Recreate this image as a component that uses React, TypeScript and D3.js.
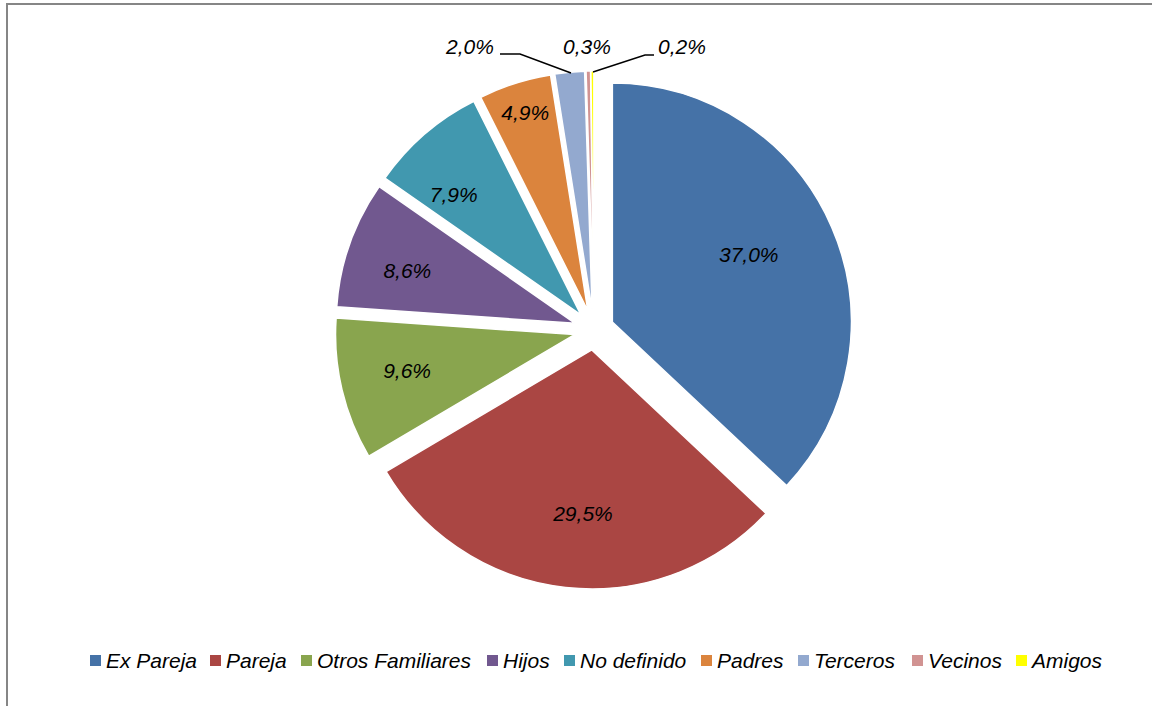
import React from "react";
import * as d3 from "d3";

const categories = ["Ex Pareja", "Pareja", "Otros Familiares", "Hijos", "No definido", "Padres", "Terceros", "Vecinos", "Amigos"];
const values = [37.0, 29.5, 9.6, 8.6, 7.9, 4.9, 2.0, 0.3, 0.2];
const labels = ["37,0%", "29,5%", "9,6%", "8,6%", "7,9%", "4,9%", "2,0%", "0,3%", "0,2%"];
const colors = ["#4572A7", "#AA4643", "#89A54E", "#71588F", "#4198AF", "#DB843D", "#93A9CF", "#D19392", "#FFFF00"];

// layout (not data)
const W = 1152, H = 706;
const CX = 594, CY = 330, R = 239, EXPLODE = 20;
const labelFactor = [0.64, 0.68, 0.72, 0.74, 0.73, 0.87];
const labelNudge: [number, number][] = [[-4, -7], [9, 2], [0, -4], [-1, 6], [-13, 12], [1, 0]];
const outsideLabelPos: Record<number, [number, number]> = { 6: [470, 47], 7: [587, 47], 8: [682, 47] };
const FONT = "'Liberation Sans', Arial, sans-serif";
const FS = 21;
const legendX = [90, 210, 301, 487, 564, 701, 798, 912, 1016];

export default function App() {
  const pie = d3.pie<number>().sort(null).value((d) => d);
  const arcs = pie(values);
  const arc = d3.arc<d3.PieArcDatum<number>>().innerRadius(0).outerRadius(R);
  const dir = (a: number) => [Math.sin(a), -Math.cos(a)];

  return (
    <svg width={W} height={H} style={{ position: "absolute", left: 0, top: 0, background: "#fff" }}>
      <rect x={7} y={4} width={W + 20} height={H + 20} fill="#fff" stroke="#868686" strokeWidth={2} />
      {arcs.map((a, i) => {
        const mid = (a.startAngle + a.endAngle) / 2;
        const [dx, dy] = dir(mid);
        const ox = CX + dx * EXPLODE, oy = CY + dy * EXPLODE;
        return (
          <g key={i} transform={`translate(${ox},${oy})`}>
            <path d={arc(a) as string} fill={colors[i]} stroke="#fff" strokeWidth={1.5} strokeLinejoin="round" />
          </g>
        );
      })}
      {arcs.map((a, i) => {
        const mid = (a.startAngle + a.endAngle) / 2;
        const [dx, dy] = dir(mid);
        let lx: number, ly: number;
        if (i < labelFactor.length) {
          const ox = CX + dx * EXPLODE, oy = CY + dy * EXPLODE;
          lx = ox + dx * R * labelFactor[i] + labelNudge[i][0];
          ly = oy + dy * R * labelFactor[i] + labelNudge[i][1];
        } else {
          [lx, ly] = outsideLabelPos[i];
        }
        return (
          <text key={i} x={lx} y={ly} dy="0.35em" textAnchor="middle" fontFamily={FONT} fontStyle="italic" fontSize={FS} fill="#000">
            {labels[i]}
          </text>
        );
      })}
      <polyline points="500,54 520,54 571,73" fill="none" stroke="#000" strokeWidth={1.5} />
      <polyline points="593,72 645,55 654,55" fill="none" stroke="#000" strokeWidth={1.5} />
      {categories.map((c, i) => (
        <g key={c}>
          <rect x={legendX[i]} y={655} width={11} height={11} fill={colors[i]} />
          <text x={legendX[i] + 16} y={668} fontFamily={FONT} fontStyle="italic" fontSize={FS} fill="#000">
            {c}
          </text>
        </g>
      ))}
    </svg>
  );
}
